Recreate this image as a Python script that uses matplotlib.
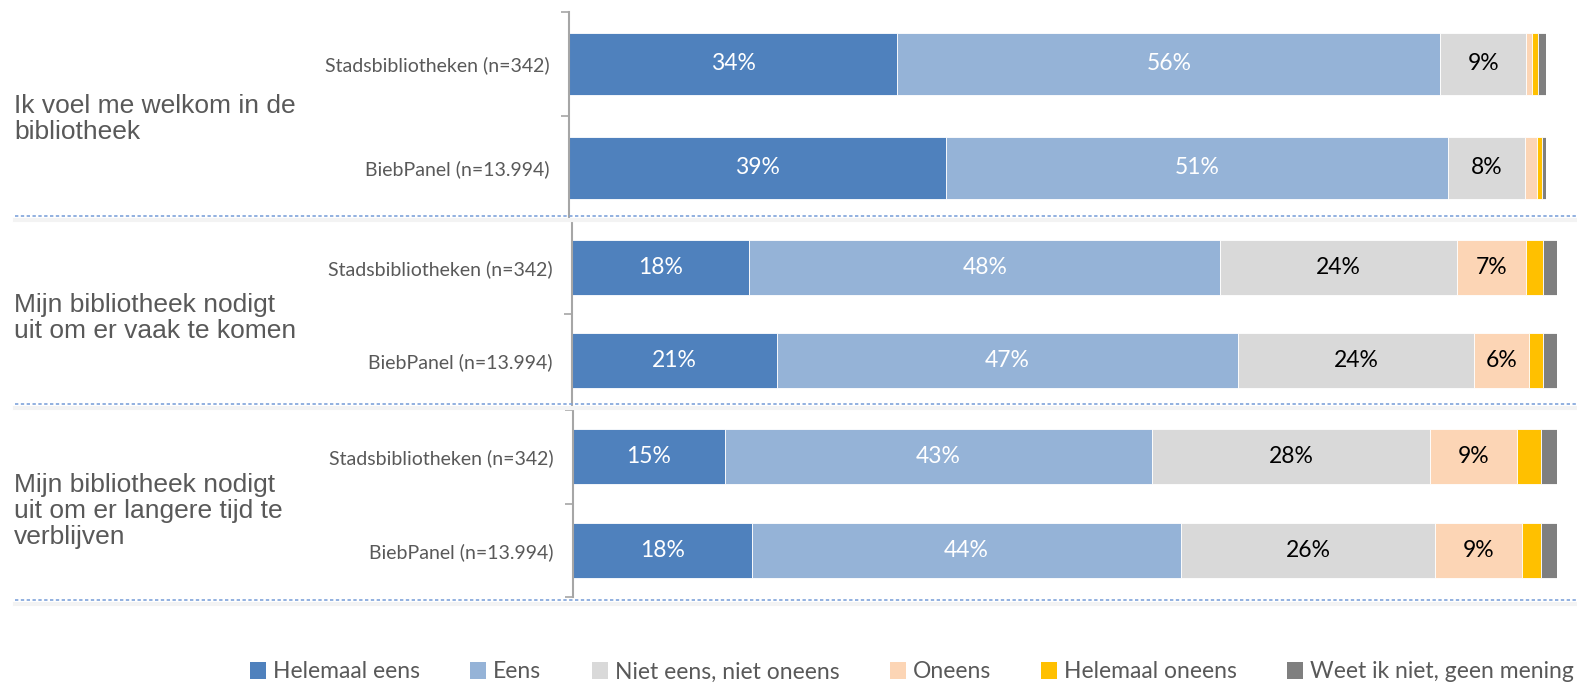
import matplotlib
matplotlib.use('Agg')
from matplotlib import pyplot as plt
from matplotlib.lines import Line2D
from matplotlib.patches import Patch

categories = ['Helemaal eens', 'Eens', 'Niet eens, niet oneens', 'Oneens',
              'Helemaal oneens', 'Weet ik niet, geen mening']
colors = ['#4F81BD', '#95B3D7', '#D9D9D9', '#FCD5B5', '#FFC000', '#7F7F7F']
text_colors = ['white', 'white', 'black', 'black', 'black', 'black']

statements = ['Ik voel me welkom in de\nbibliotheek',
              'Mijn bibliotheek nodigt\nuit om er vaak te komen',
              'Mijn bibliotheek nodigt\nuit om er langere tijd te\nverblijven']
groups = ['Stadsbibliotheken (n=342)', 'BiebPanel (n=13.994)']

# per bar: statement 1 (stads, bieb), statement 2 (stads, bieb), statement 3 (stads, bieb)
helemaal_eens = [33.6, 38.6, 18.0, 20.8, 15.4, 18.2]
eens = [55.6, 51.4, 47.8, 46.8, 43.4, 43.6]
niet_eens_niet_oneens = [8.8, 7.8, 24.0, 24.0, 28.3, 25.8]
oneens = [0.6, 1.3, 7.1, 5.6, 8.8, 8.8]
helemaal_oneens = [0.6, 0.5, 1.7, 1.4, 2.5, 2.0]
weet_niet = [0.8, 0.4, 1.4, 1.4, 1.6, 1.6]

series = [helemaal_eens, eens, niet_eens_niet_oneens, oneens, helemaal_oneens, weet_niet]

W, H = 1577, 690
fig = plt.figure(figsize=(W / 100, H / 100), dpi=100)

# panel boxes in pixels: (x0, x1, ytop, ybottom)
boxes = [(569, 1546, 12, 220), (572, 1557, 221, 407), (573, 1557, 410, 597)]
title_y = [119, 318, 511]
sep_y = [216, 404, 600]

label_font = 'Lato'
axis_grey = '#A6A6A6'
text_grey = '#595959'

for p, (x0, x1, yt, yb) in enumerate(boxes):
    ax = fig.add_axes([x0 / W, 1 - yb / H, (x1 - x0) / W, (yb - yt) / H])
    left = [0.0, 0.0]
    for k, s in enumerate(series):
        vals = s[2 * p:2 * p + 2]
        ax.barh([0, 1], vals, left=left, height=0.59, color=colors[k],
                edgecolor='white', linewidth=0.6)
        for i, v in enumerate(vals):
            if v >= 5:
                ax.text(left[i] + v / 2, i, '%d%%' % round(v), ha='center', va='center',
                        color=text_colors[k], fontsize=16.5, family=label_font)
        left = [left[i] + vals[i] for i in range(2)]
    ax.set_xlim(0, 100)
    ax.set_ylim(1.5, -0.5)
    ax.set_xticks([])
    ax.set_yticks([0, 1])
    ax.set_yticklabels(groups, fontsize=14, color=text_grey, family=label_font)
    ax.set_yticks([-0.5, 0.5, 1.5], minor=True)
    ax.tick_params(axis='y', which='major', length=0, pad=14)
    ax.tick_params(axis='y', which='minor', length=6, color=axis_grey, width=1.2)
    for sp in ['top', 'right', 'bottom']:
        ax.spines[sp].set_visible(False)
    ax.spines['left'].set_color(axis_grey)
    ax.spines['left'].set_linewidth(1.5)

    fig.text(14 / W, 1 - title_y[p] / H, statements[p], ha='left', va='center',
             fontsize=19, color=text_grey, family='Liberation Sans', linespacing=1.1)

# dotted separators with a faint shadow
for y in sep_y:
    fig.add_artist(Line2D([15 / W, 1], [1 - (y + 4) / H] * 2, color='#F3F3F3',
                          linewidth=3, transform=fig.transFigure))
    fig.add_artist(Line2D([15 / W, 1], [1 - y / H] * 2, color='#7FA3DA',
                          linewidth=1.2, linestyle=(0, (2, 1.5)), transform=fig.transFigure))

handles = [Patch(facecolor=c, edgecolor='none') for c in colors]
leg = fig.legend(handles, categories, loc='center', bbox_to_anchor=(912 / W, 1 - 672 / H),
                 ncol=6, frameon=False, handlelength=0.7, handleheight=0.7,
                 handletextpad=0.3, columnspacing=2.2,
                 prop={'family': label_font, 'size': 16.5})
for t in leg.get_texts():
    t.set_color(text_grey)

plt.savefig('out.png', dpi=100)
